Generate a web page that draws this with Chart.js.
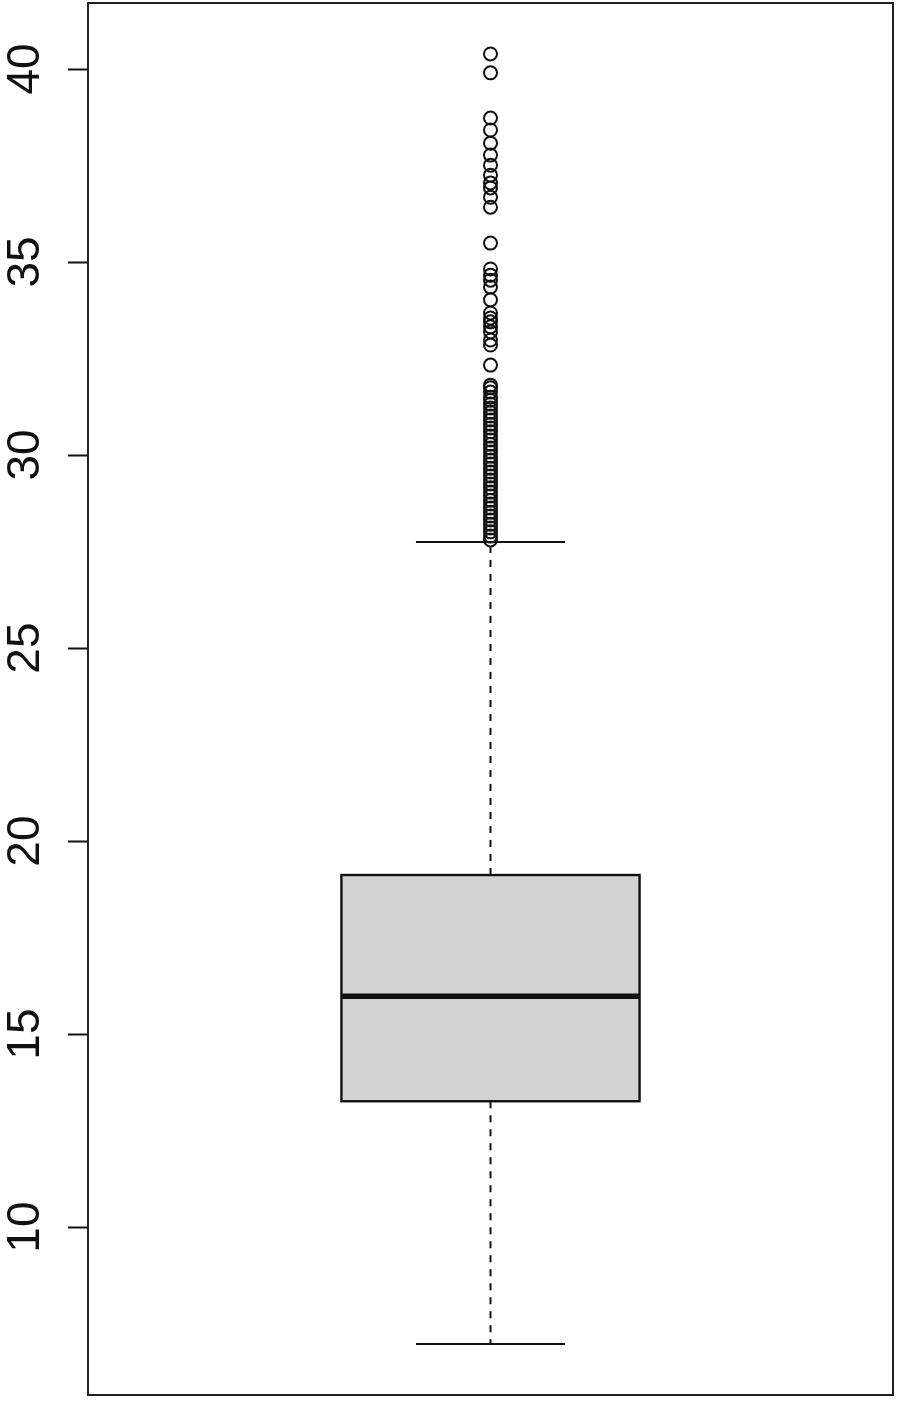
<!DOCTYPE html>
<html>
<head>
<meta charset="utf-8">
<script src="https://cdn.jsdelivr.net/npm/chart.js@4/dist/chart.umd.min.js"></script>
<style>
  html, body { margin: 0; padding: 0; background: #fff; }
  canvas { display: block; }
</style>
</head>
<body>
<canvas id="boxChart" width="900" height="1410"></canvas>
<script>
// Box statistics
const boxStats = { lowerWhisker: 6.97, q1: 13.26, median: 15.98, q3: 19.12, upperWhisker: 27.75 };
const yTicks = [10, 15, 20, 25, 30, 35, 40];

// Outliers above the upper whisker
const outliers = [
  40.39, 39.90, 38.73, 38.42, 38.08, 37.77, 37.51, 37.25, 37.05, 36.92, 36.68, 36.42,
  35.49, 34.82, 34.66, 34.53, 34.35, 34.02, 33.68, 33.55, 33.45, 33.32, 33.19, 32.98,
  32.85, 32.33, 31.81, 31.74, 31.63, 31.50, 31.42, 31.32, 31.22, 31.11, 31.01, 30.91,
  30.80, 30.70, 30.60, 30.49, 30.39, 30.28, 30.18, 30.08, 29.97, 29.87, 29.77, 29.66,
  29.56, 29.46, 29.35, 29.25, 29.15, 29.04, 28.94, 28.83, 28.73, 28.63, 28.52, 28.42,
  28.32, 28.21, 28.11, 28.01, 27.90, 27.80
];

const center = 1;      // box position on x
const boxHalf = 0.2;   // half box width
const capHalf = 0.1;   // half whisker cap width

// draws the box, median, whiskers and the frame through the chart's scales
const boxPlugin = {
  id: 'boxPlugin',
  beforeDatasetsDraw(chart) {
    const { ctx, scales: { x, y } } = chart;
    const xl = x.getPixelForValue(center - boxHalf);
    const xr = x.getPixelForValue(center + boxHalf);
    const xc = x.getPixelForValue(center);
    const cl = x.getPixelForValue(center - capHalf);
    const cr = x.getPixelForValue(center + capHalf);
    const yq1 = y.getPixelForValue(boxStats.q1);
    const yq3 = y.getPixelForValue(boxStats.q3);
    const ymed = y.getPixelForValue(boxStats.median);
    const ylo = y.getPixelForValue(boxStats.lowerWhisker);
    const yhi = y.getPixelForValue(boxStats.upperWhisker);

    ctx.save();
    ctx.strokeStyle = '#111';

    // dashed whiskers
    ctx.lineWidth = 2;
    ctx.setLineDash([7, 7]);
    ctx.beginPath();
    ctx.moveTo(xc, yq3); ctx.lineTo(xc, yhi);
    ctx.moveTo(xc, yq1); ctx.lineTo(xc, ylo);
    ctx.stroke();
    ctx.setLineDash([]);

    // caps
    ctx.beginPath();
    ctx.moveTo(cl, yhi); ctx.lineTo(cr, yhi);
    ctx.moveTo(cl, ylo); ctx.lineTo(cr, ylo);
    ctx.stroke();

    // box
    ctx.lineWidth = 2.4;
    ctx.fillStyle = '#d3d3d3';
    ctx.fillRect(xl, yq3, xr - xl, yq1 - yq3);
    ctx.strokeRect(xl, yq3, xr - xl, yq1 - yq3);

    // median
    ctx.lineWidth = 5.5;
    ctx.beginPath();
    ctx.moveTo(xl, ymed); ctx.lineTo(xr, ymed);
    ctx.stroke();
    ctx.restore();
  },
  afterDraw(chart) {
    const { ctx, chartArea: a, scales: { y } } = chart;
    ctx.save();
    // frame round the plot
    ctx.strokeStyle = '#222';
    ctx.lineWidth = 2;
    ctx.strokeRect(a.left, a.top, a.right - a.left, a.bottom - a.top);

    // rotated tick labels, like R's las=0
    ctx.fillStyle = '#111';
    ctx.font = '46px "Liberation Sans", Arial, sans-serif';
    ctx.textAlign = 'center';
    ctx.textBaseline = 'middle';
    y.ticks.forEach(t => {
      ctx.save();
      ctx.translate(26, y.getPixelForValue(t.value));
      ctx.rotate(-Math.PI / 2);
      ctx.fillText(String(t.value), 0, 0);
      ctx.restore();
    });
    ctx.restore();
  }
};

new Chart(document.getElementById('boxChart'), {
  type: 'scatter',
  data: {
    datasets: [{
      label: 'outliers',
      data: outliers.map(v => ({ x: center, y: v })),
      pointStyle: 'circle',
      pointRadius: 6.5,
      pointHoverRadius: 6.5,
      borderWidth: 2,
      borderColor: '#111',
      backgroundColor: 'rgba(0,0,0,0)'
    }]
  },
  options: {
    responsive: false,
    animation: false,
    layout: { autoPadding: false, padding: { top: 3, right: 7, bottom: 15, left: 0 } },
    plugins: { legend: { display: false }, tooltip: { enabled: false } },
    scales: {
      x: { type: 'linear', min: 0.46, max: 1.54, display: false },
      y: {
        type: 'linear',
        min: 5.65,
        max: 41.71,
        afterBuildTicks: s => { s.ticks = yTicks.map(v => ({ value: v })); },
        afterFit: s => { s.width = 88; },
        ticks: { display: false },
        border: { display: false },
        grid: {
          drawOnChartArea: false,
          drawTicks: true,
          tickLength: 20,
          tickWidth: 2,
          tickColor: '#111'
        }
      }
    }
  },
  plugins: [boxPlugin]
});
</script>
</body>
</html>
